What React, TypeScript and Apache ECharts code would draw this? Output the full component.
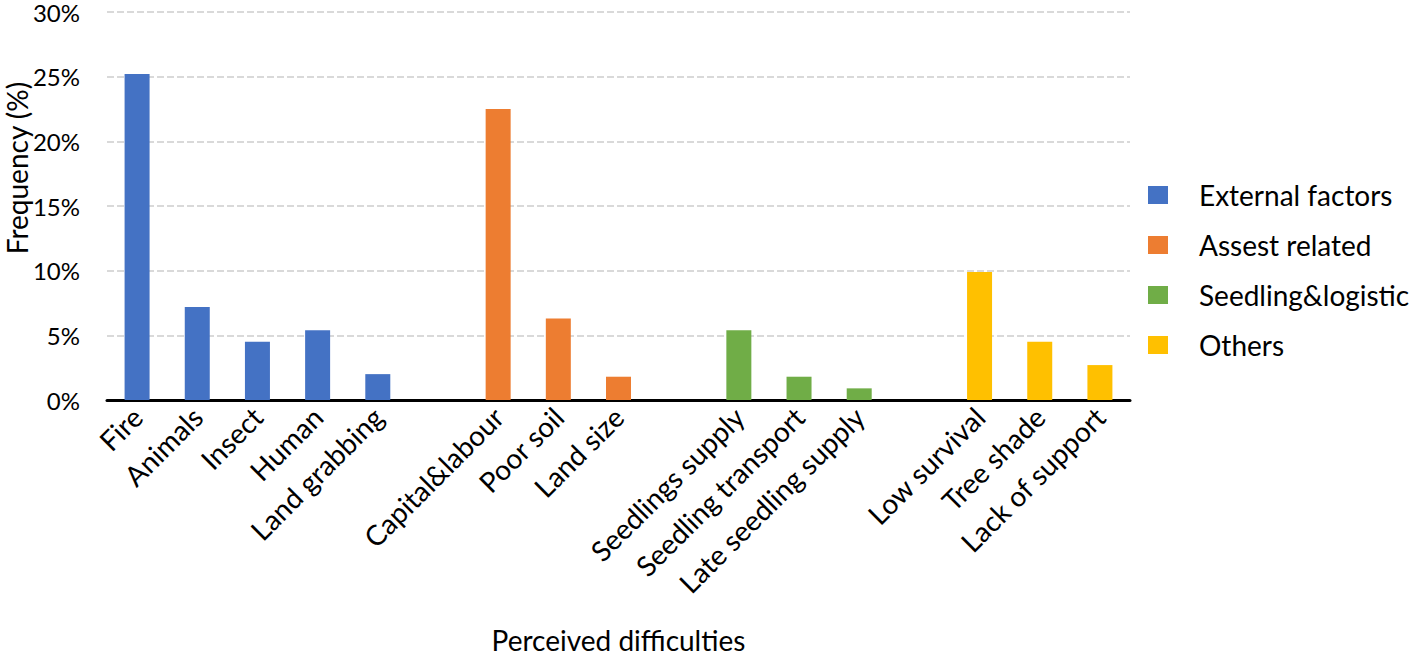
import React, { useEffect, useRef } from "react";
import * as echarts from "echarts";

const categories = [
  "Fire", "Animals", "Insect", "Human", "Land grabbing", "",
  "Capital&labour", "Poor soil", "Land size", " ",
  "Seedlings supply", "Seedling transport", "Late seedling supply", "  ",
  "Low survival", "Tree shade", "Lack of support",
];

const externalFactors = [25.2, 7.2, 4.5, 5.4, 2.0, null, null, null, null, null, null, null, null, null, null, null, null];
const assestRelated = [null, null, null, null, null, null, 22.5, 6.3, 1.8, null, null, null, null, null, null, null, null];
const seedlingLogistic = [null, null, null, null, null, null, null, null, null, null, 5.4, 1.8, 0.9, null, null, null, null];
const others = [null, null, null, null, null, null, null, null, null, null, null, null, null, null, 9.9, 4.5, 2.7];

const seriesNames = ["External factors", "Assest related", "Seedling&logistic", "Others"];
const seriesColors = ["#4472C4", "#ED7D31", "#70AD47", "#FFC000"];
const yTicks = [0, 5, 10, 15, 20, 25, 30];

const FONT = "Lato, 'Open Sans', sans-serif";

export default function App() {
  const ref = useRef<HTMLDivElement>(null);
  useEffect(() => {
    if (!ref.current) return;
    const chart = echarts.init(ref.current, null, { renderer: "svg" });
    const data = [externalFactors, assestRelated, seedlingLogistic, others];
    chart.setOption({
      animation: false,
      textStyle: { fontFamily: FONT },
      grid: { left: 107, right: 287, top: 10, bottom: 254, containLabel: false },
      legend: {
        orient: "vertical",
        left: 1143,
        top: 176,
        itemWidth: 20,
        itemHeight: 18,
        itemGap: 22,
        icon: "rect",
        data: seriesNames,
        textStyle: { fontFamily: FONT, fontSize: 28, color: "#000", padding: [0, 0, 0, 26] },
      },
      xAxis: {
        type: "category",
        data: categories,
        axisLine: { lineStyle: { color: "#000", width: 3 } },
        axisTick: { show: false },
        axisLabel: {
          rotate: 45,
          interval: 0,
          fontSize: 28,
          color: "#000",
          fontFamily: FONT,
          margin: 12,
        },
        name: "Perceived difficulties",
        nameLocation: "middle",
        nameGap: 226,
        nameTextStyle: { fontSize: 28, color: "#000", fontFamily: FONT },
      },
      yAxis: {
        type: "value",
        min: 0,
        max: 30,
        interval: 5,
        axisLine: { show: false },
        axisTick: { show: false },
        axisLabel: {
          fontSize: 24,
          color: "#000",
          fontFamily: FONT,
          margin: 27,
          formatter: (v: number) => (yTicks.includes(v) ? `${v}%` : ""),
        },
        splitLine: { lineStyle: { color: "#d9d9d9", width: 2, type: [7, 3] } },
      },
      graphic: [
        {
          type: "text",
          x: 17,
          y: 168,
          rotation: Math.PI / 2,
          style: {
            text: "Frequency (%)",
            fontSize: 28,
            fontFamily: FONT,
            fill: "#000",
            align: "center",
            verticalAlign: "middle",
          },
        },
      ],
      series: data.map((d, i) => ({
        name: seriesNames[i],
        type: "bar",
        stack: "all",
        data: d,
        barWidth: 25,
        itemStyle: { color: seriesColors[i] },
      })),
    });
    return () => chart.dispose();
  }, []);
  return (
    <div
      ref={ref}
      style={{ position: "absolute", left: 0, top: 0, width: 1417, height: 659, background: "#fff" }}
    />
  );
}
